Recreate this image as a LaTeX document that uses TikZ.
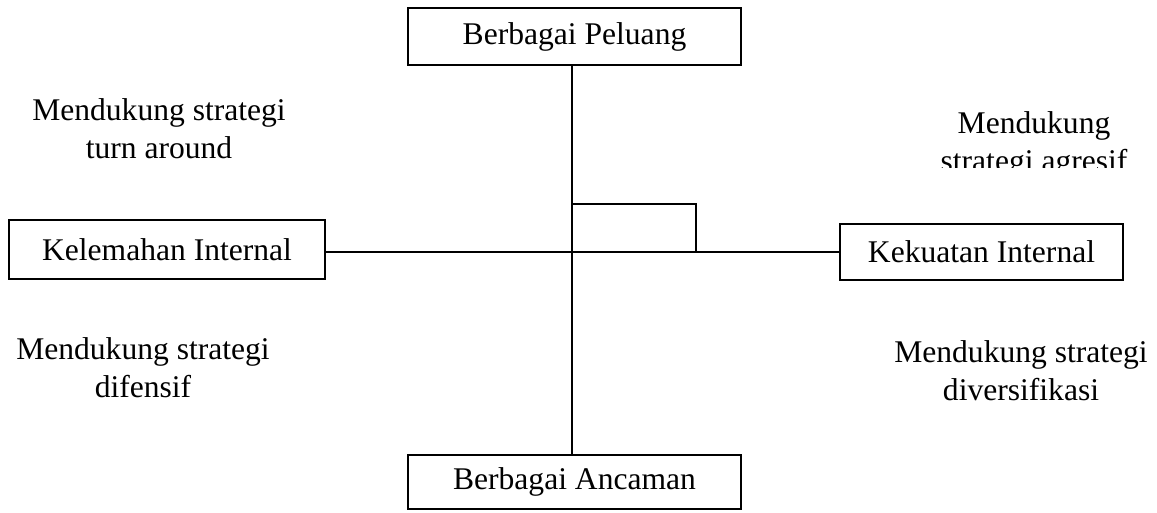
\documentclass[tikz,border=0pt]{standalone}
\usepackage{fontspec}
\setmainfont{Liberation Serif}

\begin{document}
\begin{tikzpicture}[x=0.38pt,y=-0.38pt,line width=0.8pt,
factorbox/.style={draw,rectangle,inner sep=0pt,line width=0.8pt,font=\fontsize{12}{14.4}\selectfont},
quadtext/.style={align=center,inner sep=0pt,font=\fontsize{12}{14.4}\selectfont}]

\useasboundingbox (0,0) rectangle (1157,512);

\draw (574.5,36.5) node[factorbox,minimum width=126.5pt,minimum height=21.7pt] (P) {Berbagai Peluang};
\draw (574.5,482) node[factorbox,minimum width=126.5pt,minimum height=20.5pt] (A) {Berbagai Ancaman};
\draw (167,249.5) node[factorbox,minimum width=120pt,minimum height=22.4pt] (W) {Kelemahan Internal};
\draw (981.5,252) node[factorbox,minimum width=107.5pt,minimum height=21.3pt] (S) {Kekuatan Internal};

\coordinate (O) at (572,252);
\coordinate (R) at (696,204);
\draw (P.south -| O) -- (A.north -| O);
\draw (W.east |- O) -- (S.west |- O);
\draw (O) |- (R) -- (R |- O);

\draw (159,129) node[quadtext] (Q2) {Mendukung strategi\\turn around};
\begin{scope}
\clip (880,90) rectangle (1157,167);
\draw (1034,145) node[quadtext] (Q1) {Mendukung\\strategi agresif};
\end{scope}
\draw (143,368) node[quadtext] (Q3) {Mendukung strategi\\difensif};
\draw (1021,371) node[quadtext] (Q4) {Mendukung strategi\\diversifikasi};

\end{tikzpicture}
\end{document}
